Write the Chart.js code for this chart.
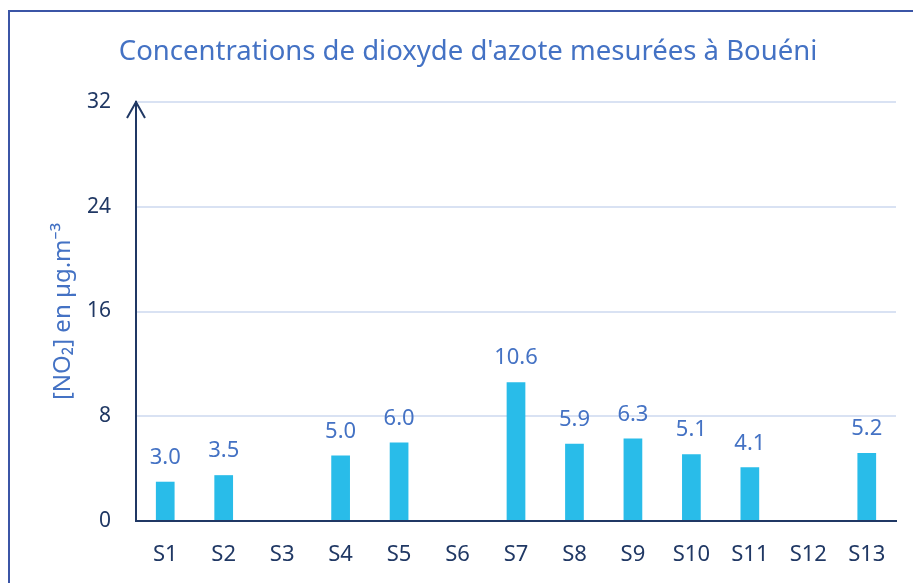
<!DOCTYPE html>
<html>
  <head>
    <title>NO2 Bouéni</title>
    <meta charset="utf-8">
    <style>
      body { margin: 0; background: #fff; overflow: hidden; }
      #frame { position: absolute; left: 8px; top: 10px; width: 1000px; height: 1000px; border: 2px solid #3b55a6; }
      #wrap { position: absolute; left: 0; top: 0; width: 913px; height: 583px; }
    </style>
  </head>
  <body>
    <div id="frame"></div>
    <div id="wrap"><canvas id="no2Chart"></canvas></div>

    <script src="https://cdn.jsdelivr.net/npm/chart.js"></script>
    <script>
      var sites = ['S1', 'S2', 'S3', 'S4', 'S5', 'S6', 'S7', 'S8', 'S9', 'S10', 'S11', 'S12', 'S13'];
      var no2 = [3.0, 3.5, null, 5.0, 6.0, null, 10.6, 5.9, 6.3, 5.1, 4.1, null, 5.2];
      var yTicks = [0, 8, 16, 24, 32];

      var navy = '#203864';
      var blue = '#4472c4';
      var font = '"Noto Sans", "Open Sans", sans-serif';

      // value labels above the bars + arrow at top of y axis
      var extras = {
        id: 'extras',
        afterDatasetsDraw: function (chart) {
          var ctx = chart.ctx;
          var meta = chart.getDatasetMeta(0);
          ctx.save();
          ctx.fillStyle = blue;
          ctx.font = '22px ' + font;
          ctx.textAlign = 'center';
          ctx.textBaseline = 'bottom';
          meta.data.forEach(function (bar, i) {
            if (no2[i] == null) return;
            ctx.fillText(no2[i].toFixed(1), bar.x, bar.y - 13);
          });
          var x = chart.scales.y.right;
          var top = chart.chartArea.top;
          ctx.strokeStyle = navy;
          ctx.lineWidth = 2;
          ctx.beginPath();
          ctx.moveTo(x - 9, top + 16);
          ctx.lineTo(x, top);
          ctx.lineTo(x + 9, top + 16);
          ctx.stroke();
          ctx.restore();
        }
      };

      var config = {
        type: 'bar',
        data: {
          labels: sites,
          datasets: [{
            label: 'NO2',
            backgroundColor: '#29bce9',
            data: no2,
            barPercentage: 0.32,
            categoryPercentage: 1
          }]
        },
        options: {
          responsive: false,
          animation: false,
          layout: { padding: { left: 40, right: 17, top: 36, bottom: 0 } },
          scales: {
            x: {
              grid: { display: false, drawTicks: false },
              border: { color: navy, width: 2 },
              ticks: { color: navy, font: { family: font, size: 22 }, padding: 21 },
              afterFit: function (s) { s.height = 62; }
            },
            y: {
              min: yTicks[0],
              max: yTicks[yTicks.length - 1],
              afterBuildTicks: function (s) { s.ticks = yTicks.map(function (v) { return { value: v }; }); },
              grid: { color: '#d9e2f3', lineWidth: 2, drawTicks: false },
              border: { color: navy, width: 2 },
              ticks: { color: navy, font: { family: font, size: 21 }, padding: 25 },
              title: {
                display: true,
                text: '[NO₂] en µg.m⁻³',
                color: blue,
                font: { family: font, size: 24 },
                padding: { top: 9, bottom: 0 }
              },
              afterFit: function (s) { s.width = 96; }
            }
          },
          plugins: {
            legend: { display: false },
            tooltip: { enabled: false },
            title: {
              display: true,
              text: "Concentrations de dioxyde d'azote mesurées à Bouéni",
              color: blue,
              font: { family: font, size: 27.5, weight: 'normal' },
              padding: { top: 0, bottom: 33 }
            }
          }
        },
        plugins: [extras]
      };

      var canvas = document.getElementById('no2Chart');
      canvas.width = 913;
      canvas.height = 583;
      var no2Chart = new Chart(canvas, config);
    </script>
  </body>
</html>
